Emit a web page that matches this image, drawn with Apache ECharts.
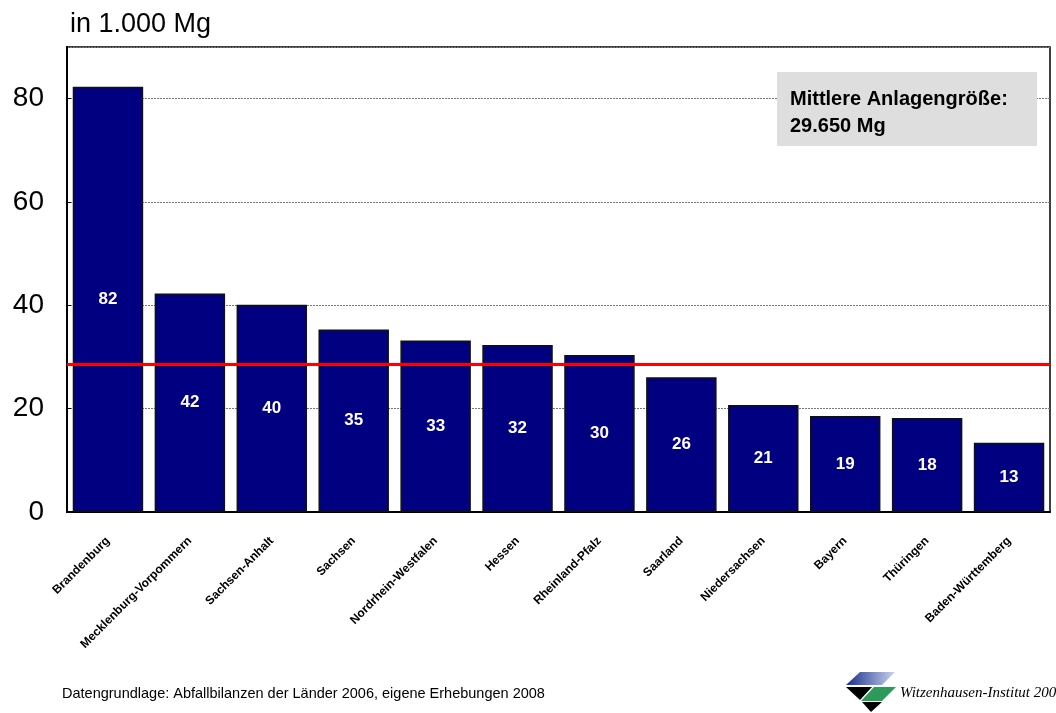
<!DOCTYPE html>
<html>
<head>
<meta charset="utf-8">
<script src="https://cdn.jsdelivr.net/npm/echarts@6/dist/echarts.min.js"></script>
<style>
  html, body { margin: 0; padding: 0; background: #fff; }
  #chart { width: 1056px; height: 713px; }
</style>
</head>
<body>
<div id="chart"></div>
<script>
// Anlagen je Bundesland, in 1.000 Mg
var categories = ['Brandenburg', 'Mecklenburg-Vorpommern', 'Sachsen-Anhalt', 'Sachsen',
  'Nordrhein-Westfalen', 'Hessen', 'Rheinland-Pfalz', 'Saarland', 'Niedersachsen',
  'Bayern', 'Thüringen', 'Baden-Württemberg']
var values = [82.3, 42.3, 40.1, 35.3, 33.2, 32.3, 30.4, 26.1, 20.7, 18.6, 18.2, 13.4]
var meanLine = 28.6
var yTicks = [0, 20, 40, 60, 80]

var chart = echarts.init(document.getElementById('chart'))

chart.setOption({
  animation: false,
  textStyle: { fontFamily: 'Liberation Sans, Arial, sans-serif' },
  title: {
    text: 'in 1.000 Mg',
    left: 65,
    top: 6,
    textStyle: { fontSize: 27, fontWeight: 'normal', color: '#000' }
  },
  grid: {
    left: 67,
    right: 6,
    top: 47,
    bottom: 201,
    show: true,
    borderColor: '#000',
    borderWidth: 1.5,
    backgroundColor: 'transparent'
  },
  xAxis: {
    type: 'category',
    data: categories,
    axisLine: { lineStyle: { color: '#000', width: 2 } },
    axisTick: { show: false },
    axisLabel: {
      rotate: 45,
      interval: 0,
      margin: 27,
      fontSize: 12,
      fontWeight: 'bold',
      color: '#000'
    }
  },
  yAxis: {
    type: 'value',
    min: 0,
    max: 90,
    interval: 20,
    axisLine: { show: true, lineStyle: { color: '#000', width: 2 } },
    axisTick: { show: true, inside: true, length: 4, lineStyle: { color: '#000' } },
    axisLabel: {
      fontSize: 28,
      color: '#000',
      margin: 23,
      showMaxLabel: false,
      formatter: function (v) { return yTicks.indexOf(v) >= 0 ? String(v) : '' }
    },
    splitLine: { lineStyle: { color: '#777', type: [2, 1], width: 1 } }
  },
  series: [
    {
      type: 'bar',
      data: values,
      barCategoryGap: '14%',
      itemStyle: {
        color: '#000080',
        borderColor: '#111',
        borderWidth: 1.5
      },
      label: {
        show: true,
        position: 'inside',
        color: '#fff',
        fontSize: 17,
        fontWeight: 'bold',
        formatter: function (p) { return Math.round(p.value) }
      },
      markLine: {
        silent: true,
        symbol: 'none',
        label: { show: false },
        lineStyle: { color: '#ff0000', width: 3, type: 'solid' },
        data: [{ yAxis: meanLine }]
      }
    }
  ],
  graphic: [
    {
      type: 'rect',
      shape: { x: 777, y: 72, width: 260, height: 74 },
      style: { fill: '#dedede' },
      z: 10
    },
    {
      type: 'text',
      x: 790,
      y: 86,
      style: {
        text: 'Mittlere Anlagengröße:\n29.650 Mg',
        font: 'bold 20px Liberation Sans, Arial, sans-serif',
        fill: '#000',
        lineHeight: 27
      },
      z: 11
    },
    {
      type: 'text',
      x: 62,
      y: 686,
      style: {
        text: 'Datengrundlage: Abfallbilanzen der Länder 2006, eigene Erhebungen 2008',
        font: '14.5px Liberation Sans, Arial, sans-serif',
        fill: '#000'
      }
    },
    // logo
    {
      type: 'polygon',
      shape: { points: [[860, 672], [895, 672], [882, 685], [846, 685]] },
      style: {
        fill: new echarts.graphic.LinearGradient(0, 0, 1, 0, [
          { offset: 0, color: '#1a2f8a' }, { offset: 1, color: '#c8d4f0' }
        ])
      }
    },
    {
      type: 'polygon',
      shape: { points: [[846, 687], [872, 687], [860, 700]] },
      style: { fill: '#000' }
    },
    {
      type: 'polygon',
      shape: { points: [[874, 687], [896, 687], [882, 701], [861, 701]] },
      style: { fill: '#2e9a5a' }
    },
    {
      type: 'polygon',
      shape: { points: [[862, 702], [882, 702], [871, 712]] },
      style: { fill: '#000' }
    },
    {
      type: 'text',
      x: 900,
      y: 686,
      style: {
        text: 'Witzenhausen-Institut 200',
        font: 'italic 15px Liberation Serif, Times New Roman, serif',
        fill: '#000'
      }
    }
  ]
})
</script>
</body>
</html>
